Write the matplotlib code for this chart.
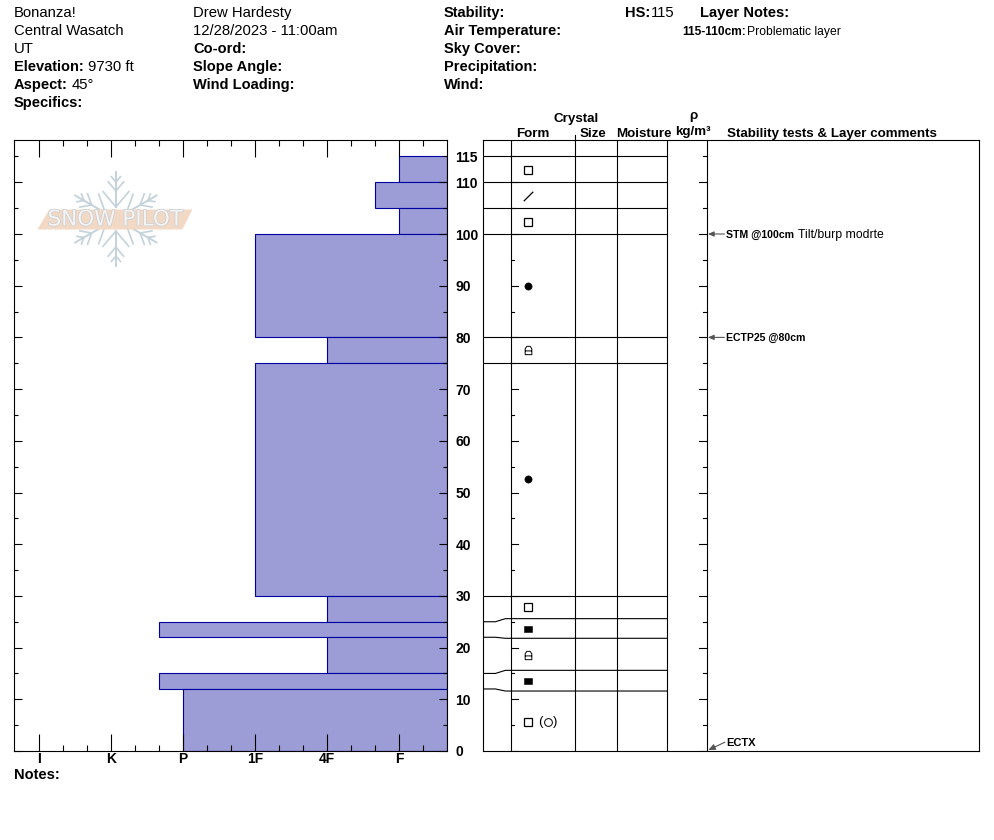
import numpy as np
import matplotlib
matplotlib.use('Agg')
import matplotlib.pyplot as plt
import matplotlib.patheffects as pe
from matplotlib.patches import Polygon
from matplotlib.path import Path
from matplotlib.transforms import ScaledTranslation

plt.rcParams['font.family'] = ['Liberation Sans', 'DejaVu Sans']

W, H = 994, 840

# layers, top to bottom (cm)
layer_top = [115, 110, 105, 100, 80, 75, 30, 25, 22, 15, 12]
layer_bottom = [110, 105, 100, 80, 75, 30, 25, 22, 15, 12, 0]
# hardness: I=0 K=1 P=2 1F=3 4F=4 F=5
layer_hardness = [5, 4.67, 5, 3, 4, 3, 4, 1.67, 4, 1.67, 2]
# where the layer line lands on the crystal columns when spread apart
layer_drawn = [115, 110, 105, 100, 80, 75, 30, 25.6, 21.8, 15.6, 11.6]

hardness_ticks = [0, 1, 2, 3, 4, 5]
hardness_labels = ['I', 'K', 'P', '1F', '4F', 'F']
hardness_label_shift = [-3.5, -0.5, -1.5, 1.5, 1.5, -1.5]
major_cm = list(range(0, 111, 10))
minor_cm = list(range(5, 116, 10))

form_heights = [112.4, 107.4, 102.4, 90, 77.6, 52.7, 27.8, 23.6, 18.5, 13.5, 5.6]
form_symbols = ['box', 'slash', 'box', 'dot', 'lock', 'dot', 'box', 'solid', 'lock', 'solid', 'box']
second_form_heights = [5.6]

# x, baseline y, text
header_plain = [
    (14, 17, 'Bonanza!'), (14, 35, 'Central Wasatch'), (14, 53, 'UT'),
    (193, 17, 'Drew Hardesty'), (193, 35, '12/28/2023 - 11:00am'),
    (88, 71, '9730 ft'), (72, 89, '45°'), (651, 17, '115'),
]
header_bold = [
    (14, 71, 'Elevation:'), (14, 89, 'Aspect:'), (14, 107, 'Specifics:'),
    (193, 53, 'Co-ord:'), (193, 71, 'Slope Angle:'), (193, 89, 'Wind Loading:'),
    (444, 17, 'Stability:'), (444, 35, 'Air Temperature:'), (444, 53, 'Sky Cover:'),
    (444, 71, 'Precipitation:'), (444, 89, 'Wind:'), (625, 17, 'HS:'),
    (700, 17, 'Layer Notes:'), (14, 779, 'Notes:'),
]
column_heads = [
    (576, 122, 'Crystal'), (532.5, 137, 'Form'), (593, 137, 'Size'),
    (643.5, 137, 'Moisture'), (693, 135, 'kg/m³'), (693, 119, 'ρ'),
    (832, 137, 'Stability tests & Layer comments'),
]
test_heights = [100, 80]
test_names = ['STM @100cm', 'ECTP25 @80cm']
test_notes = ['Tilt/burp modrte', '']


def px_text(x, y, s, size=10, weight='normal', ha='left'):
    return fig.text(x / W, 1 - y / H, s, fontsize=size, fontweight=weight,
                    ha=ha, va='baseline', color='black')


def px_axes(x0, x1, y_top, y_bot, **kw):
    x0 -= 0.6
    x1 -= 0.6
    return fig.add_axes([x0 / W, 1 - y_bot / H, (x1 - x0) / W, (y_bot - y_top) / H], **kw)


fig = plt.figure(figsize=(W / 100, H / 100), dpi=100, facecolor='white')

cm_top = (751 - 140) / 5.17

# hardness profile
ax = px_axes(14.5, 447.6, 140, 751)
ax.set_xlim((14.5 - 39.5) / 72, (447.6 - 39.5) / 72)
ax.set_ylim(0, cm_top)
right_edge = ax.get_xlim()[1]
for top, bot, hard in zip(layer_top, layer_bottom, layer_hardness):
    ax.barh(bot, right_edge - hard, height=top - bot, left=hard, align='edge',
            facecolor='#9c9cd6', edgecolor='#0000a0', linewidth=0.8)
ax.set_xticks(hardness_ticks)
ax.set_xticklabels(hardness_labels, fontsize=10, fontweight='bold')
for lab, dx in zip(ax.get_xticklabels(), hardness_label_shift):
    lab.set_transform(lab.get_transform() + ScaledTranslation(dx / 100, 0, fig.dpi_scale_trans))
ax.set_xticks([v / 3 for v in range(0, 17) if v % 3], minor=True)
ax.tick_params(axis='x', which='major', direction='in', top=True, length=12, width=0.8, pad=1)
ax.tick_params(axis='x', which='minor', direction='in', top=True, length=4, width=0.8)
ax.set_yticks(major_cm)
ax.set_yticklabels([str(v) for v in major_cm], fontsize=10, fontweight='bold')
ax.set_yticks(minor_cm, minor=True)
ax.set_yticklabels(['115' if v == 115 else '' for v in minor_cm], minor=True, fontsize=10, fontweight='bold')
ax.tick_params(axis='y', which='major', direction='in', left=True, right=True, labelleft=False,
               labelright=True, length=6, width=0.8, pad=6)
ax.tick_params(axis='y', which='minor', direction='in', left=True, right=True, labelleft=False,
               labelright=True, length=3, width=0.8, pad=6)
for s in ax.spines.values():
    s.set_linewidth(0.8)
    s.set_zorder(5)

# snowpilot logo, in its own pixel sized overlay
logo = px_axes(14.5, 447, 140, 751)
logo.set_xlim(14.5, 447)
logo.set_ylim(751, 140)
logo.axis('off')
logo.patch.set_alpha(0)
cx, cy = 116.5, 219
flake = '#c4d2da'
for a in np.radians([90, 30, 150, 210, 270, 330]):
    d = np.array([np.cos(a), -np.sin(a)])
    logo.plot([cx + d[0] * 12, cx + d[0] * 47], [cy + d[1] * 12, cy + d[1] * 47], color=flake, lw=1.4)
    for r, blen in [(12, 20), (28, 12), (37, 7)]:
        for turn in [np.radians(40), np.radians(-40)]:
            b = np.array([d[0] * np.cos(turn) - d[1] * np.sin(turn), d[0] * np.sin(turn) + d[1] * np.cos(turn)])
            p = np.array([cx, cy]) + d * r
            logo.plot([p[0], p[0] + b[0] * blen], [p[1], p[1] + b[1] * blen], color=flake, lw=1.2)
logo.add_patch(Polygon([(38, 229.5), (50, 209.5), (193, 209.5), (183, 229.5)], closed=True,
                       facecolor='#f2d9c6', edgecolor='none', zorder=3))
logo_txt = logo.text(116, 219.5, 'SNOW PILOT', fontsize=15.5, color='#f4f4f4', ha='center', va='center',
                     family=['DejaVu Sans'], zorder=4)
logo_txt.set_path_effects([pe.withStroke(linewidth=1.0, foreground='#c8ccd0')])

# crystal columns
mid = px_axes(483.5, 979.5, 140, 751)
mid.set_xlim(483.5, 979.5)
mid.set_ylim(0, cm_top)
mid.set_xticks([])
mid.set_yticks([])
for s in mid.spines.values():
    s.set_linewidth(0.8)
for x in [511.5, 575.6, 617.6, 667.5, 707.5]:
    mid.axvline(x, color='black', lw=0.8)
for top, drawn in zip(layer_top, layer_drawn):
    mid.plot([483.5, 496, 506, 667.5], [top, top, drawn, drawn], color='black', lw=0.8)
for v in major_cm:
    mid.plot([511.5, 519], [v, v], color='black', lw=0.8)
    mid.plot([700, 707.5], [v, v], color='black', lw=0.8)
for v in minor_cm:
    mid.plot([511.5, 515], [v, v], color='black', lw=0.8)
    mid.plot([704, 707.5], [v, v], color='black', lw=0.8)
fig.add_artist(plt.Line2D([575 / W, 575 / W], [1 - 135 / H, 1 - 140 / H], color='black', lw=0.8))

lock = Path([(-0.8, -1), (0.8, -1), (0.8, 0.4), (0.4, 1), (-0.4, 1), (-0.8, 0.4), (-0.8, -1), (-0.8, -0.1), (0.8, -0.1)],
            [Path.MOVETO, Path.LINETO, Path.LINETO, Path.LINETO, Path.LINETO, Path.LINETO, Path.LINETO,
             Path.MOVETO, Path.LINETO])
solid = Path([(-1.3, -0.85), (1.3, -0.85), (1.3, 0.85), (-1.3, 0.85), (-1.3, -0.85)])
slash = Path([(-1, -1), (1, 1)])
styles = {
    'box': dict(marker='s', ms=5.2, mfc='white', mec='black', mew=0.9),
    'dot': dict(marker='o', ms=5.2, mfc='black', mec='black', mew=0.4),
    'solid': dict(marker=solid, ms=6.2, mfc='black', mec='black', mew=0.4),
    'slash': dict(marker=slash, ms=6.8, mfc='none', mec='black', mew=0.9),
    'lock': dict(marker=lock, ms=6, mfc='none', mec='black', mew=0.7),
}
for h, name in zip(form_heights, form_symbols):
    mid.plot([528.5], [h], linestyle='none', zorder=4, **styles[name])
for h in second_form_heights:
    mid.plot([548.5], [h], marker='o', ms=5.6, mfc='white', mec='black', mew=0.7, linestyle='none')
    mid.text(541, h, '(', fontsize=9.5, ha='center', va='center')
    mid.text(556, h, ')', fontsize=9.5, ha='center', va='center')

# stability tests
for h, name, note in zip(test_heights, test_names, test_notes):
    mid.annotate('', xy=(708.5, h), xytext=(725, h),
                 arrowprops=dict(arrowstyle='-|>,head_width=0.15,head_length=0.35', color='#555555', lw=0.8,
                                 shrinkA=0, shrinkB=0))
    mid.text(727, h - 0.2, name, fontsize=7.6, fontweight='bold', va='center', ha='left')
    if note:
        mid.text(798.5, h - 0.1, note, fontsize=8.8, va='center', ha='left')
mid.annotate('', xy=(709, 0.2), xytext=(725.5, 1.7),
             arrowprops=dict(arrowstyle='-|>,head_width=0.18,head_length=0.4', color='#555555', lw=0.8,
                             shrinkA=0, shrinkB=0))
mid.text(727, 1.6, 'ECTX', fontsize=8, fontweight='bold', va='center', ha='left')

# header text
for x, y, s in header_plain:
    px_text(x, y, s, size=10.7)
for x, y, s in header_bold:
    px_text(x, y, s, size=10.5, weight='bold')
for x, y, s in column_heads:
    px_text(x, y, s, size=9.6, weight='bold', ha='center')
px_text(682, 35, '115-110cm:', size=8.6, weight='bold')
px_text(747, 35, 'Problematic layer', size=8.7)

fig.savefig('out.png', dpi=100)
